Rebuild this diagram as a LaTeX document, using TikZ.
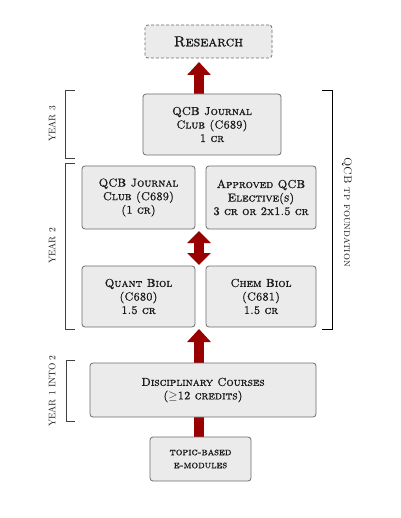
\documentclass[tikz,border=0pt]{standalone}
\usepackage{fontspec}
\usetikzlibrary{arrows.meta,backgrounds}
\newfontfamily\bxfam{lmromancaps10-regular.otf}[FakeBold=1.2]
\definecolor{boxfill}{HTML}{EBEBEB}
\definecolor{boxline}{HTML}{6E6E6E}
\definecolor{arrred}{HTML}{990000}
\definecolor{txt}{HTML}{1A1A1A}
\tikzset{
  box/.style={draw=boxline, fill=boxfill, rounded corners=3pt, line width=0.8pt,
    align=center, text=txt, font=\fontsize{11.5}{13.5}\selectfont\bxfam, inner sep=0pt},
  dashbox/.style={box, dashed, dash pattern=on 3pt off 2pt},
  redarrow/.style={draw=arrred, line width=10pt, -{Triangle[width=23pt,length=13pt]}},
  redboth/.style={draw=arrred, line width=10pt, {Triangle[width=23pt,length=12pt]}-{Triangle[width=23pt,length=12pt]}},
  bracket/.style={draw=black!75, line width=0.8pt},
  yearlabel/.style={rotate=90, font=\fontsize{9.5}{11}\selectfont, text=txt},
  sidelabel/.style={rotate=-90, font=\fontsize{11}{13}\selectfont\scshape, text=txt}
}
\begin{document}
\begin{tikzpicture}[x=1pt,y=-1pt]
\useasboundingbox (0,0) rectangle (400,518);

\node[dashbox, minimum width=127pt, minimum height=33pt, font=\fontsize{14.5}{16}\selectfont\bxfam] (research) at (208.5,41.5) {Research};
\node[box, minimum width=138pt, minimum height=61pt] (y3) at (212,124.5) {QCB Journal\\Club (C689)\\1 cr};
\node[box, minimum width=113pt, minimum height=63pt] (jc2) at (138.5,197.5) {QCB Journal\\Club (C689)\\(1 cr)};
\node[box, minimum width=110pt, minimum height=63pt] (elec) at (261,197.5) {Approved QCB\\Elective(s)\\3 cr or 2x1.5 cr};
\node[box, minimum width=113pt, minimum height=61pt] (quant) at (138.5,296.5) {Quant Biol\\(C680)\\1.5 cr};
\node[box, minimum width=110pt, minimum height=61pt] (chem) at (261,296.5) {Chem Biol\\(C681)\\1.5 cr};
\node[box, minimum width=226pt, minimum height=54pt] (disc) at (203,390) {Disciplinary Courses\\($\geq$12 credits)};
\node[box, minimum width=101pt, minimum height=44pt, font=\fontsize{10.5}{13}\selectfont\bxfam] (topic) at (200.5,459) {topic-based\\e-modules};

\coordinate (a1s) at (199,94);
\coordinate (a1e) at (199,62);
\coordinate (a2s) at (199,231);
\coordinate (a2e) at (199,265);
\coordinate (a3s) at (199,437);
\coordinate (a3e) at (199,329);

\begin{scope}[on background layer]
\fill[white] (0,0) rectangle (400,518);
\draw[redarrow] (a1s) -- (a1e);
\draw[redboth] (a2s) -- (a2e);
\draw[redarrow] (a3s) -- (a3e);
\end{scope}

% left brackets
\coordinate (b3t) at (65,90); \coordinate (b3b) at (65,158);
\draw[bracket] ([xshift=10pt]b3t) -- (b3t) -- (b3b) -- ([xshift=10pt]b3b);
\coordinate (b2t) at (65,163); \coordinate (b2b) at (65,329);
\draw[bracket] ([xshift=10pt]b2t) -- (b2t) -- (b2b) -- ([xshift=10pt]b2b);
\coordinate (b1t) at (66,360); \coordinate (b1b) at (66,421);
\draw[bracket] ([xshift=9pt]b1t) -- (b1t) -- (b1b) -- ([xshift=9pt]b1b);
\node[yearlabel] (l3) at (52,124) {YEAR 3};
\node[yearlabel] (l2) at (52,246) {YEAR 2};
\node[yearlabel] (l1) at (52,391) {YEAR 1 INTO 2};

% right bracket
\coordinate (rbt) at (332,90); \coordinate (rbb) at (332,329);
\draw[draw=black, line width=0.8pt] ([xshift=-10pt]rbt) -- (rbt) -- (rbb) -- ([xshift=-10pt]rbb);
\node[sidelabel] (rl) at (347,212) {QCB tp foundation};
\end{tikzpicture}
\end{document}
